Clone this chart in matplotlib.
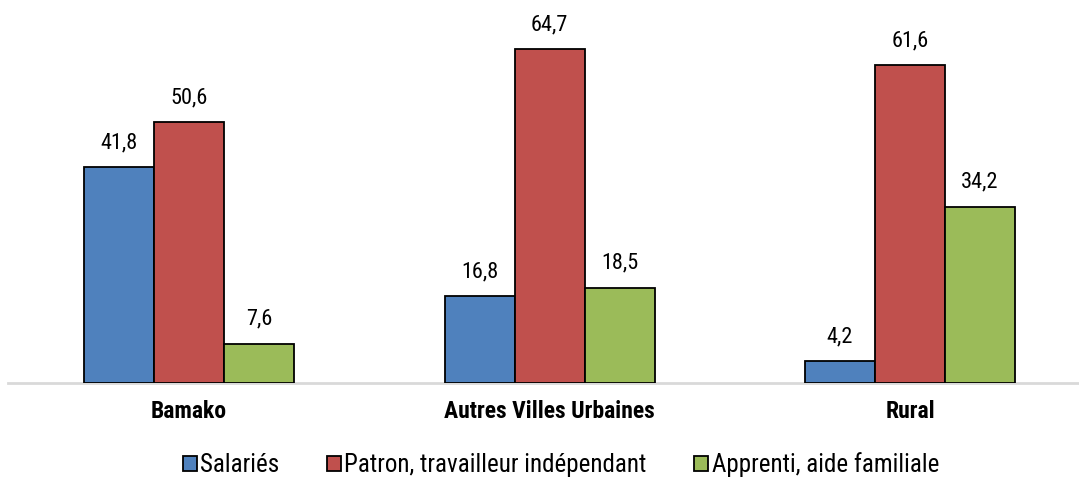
import matplotlib.pyplot as plt
import numpy as np

# Arial Narrow look-alike, with a safe fallback
plt.rcParams["font.family"] = ["Roboto Condensed", "Liberation Sans", "DejaVu Sans"]

categories = ["Bamako", "Autres Villes Urbaines", "Rural"]
series = ["Salariés", "Patron, travailleur indépendant", "Apprenti, aide familiale"]
salaries = [41.8, 16.8, 4.2]
patron = [50.6, 64.7, 61.6]
apprenti = [7.6, 18.5, 34.2]
colors = ["#4F81BD", "#C0504D", "#9BBB59"]

W, H = 1079, 478
fig = plt.figure(figsize=(W / 100, H / 100), dpi=100)
# axes placed in pixel terms: baseline at y=383, left at x=8
ax = fig.add_axes([8 / W, (H - 383) / H, 1 - 8 / W, 361 / H])

x = np.arange(len(categories))
width = 70 / 360.5
for i, (vals, name, col) in enumerate(zip([salaries, patron, apprenti], series, colors)):
    pos = x + (i - 1) * width
    bars = ax.bar(pos, vals, width, color=col, edgecolor="black", linewidth=1.3,
                  label=name, zorder=3)
    for b, v in zip(bars, vals):
        ax.text(b.get_x() + b.get_width() / 2, v + 2.7, f"{v:.1f}".replace(".", ","),
                ha="center", va="bottom", fontsize=16)

ax.set_xlim((8 - 189) / 360.5, (1079 - 189) / 360.5)
ax.set_ylim(0, 70)
for s in ["top", "right", "left"]:
    ax.spines[s].set_visible(False)
ax.spines["bottom"].set_color("#d9d9d9")
ax.spines["bottom"].set_linewidth(2)
ax.set_yticks([])
ax.set_xticks(x)
ax.set_xticklabels(categories, fontsize=17, fontweight="bold")
ax.tick_params(axis="x", length=0, pad=12)

# legend sits a little right of centre in the original
leg = fig.legend(loc="center", bbox_to_anchor=(561 / W, (H - 465) / H), ncol=3,
                 frameon=False, fontsize=18, handlelength=0.55, handleheight=0.55,
                 handletextpad=0.15, columnspacing=1.9)

fig.savefig("out.png", dpi=100)
